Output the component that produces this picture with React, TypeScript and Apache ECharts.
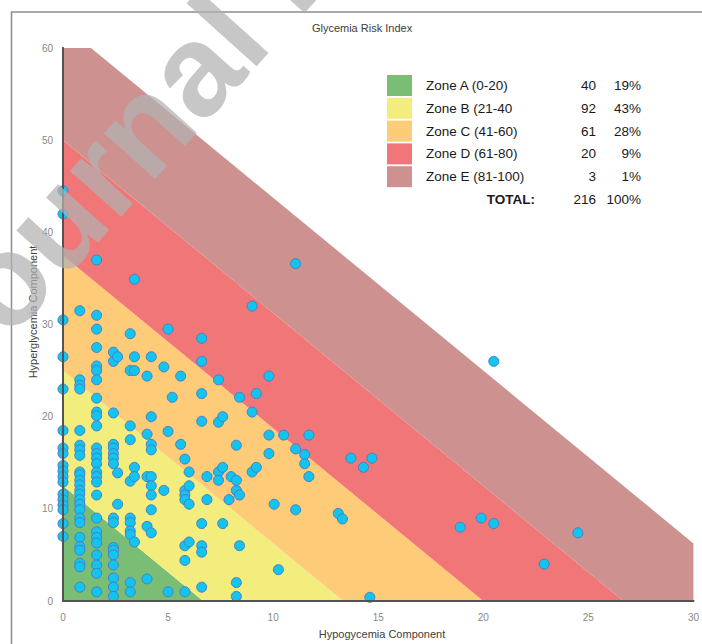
import React, { useEffect, useRef } from "react";
import * as echarts from "echarts";

// ---- Data ----
const zoneNames = ["Zone A (0-20)", "Zone B (21-40", "Zone C (41-60)", "Zone D (61-80)", "Zone E (81-100)"];
const zoneLow = [0, 20, 40, 60, 80];
const zoneHigh = [20, 40, 60, 80, 100];
const zoneColors = ["#7abd75", "#f3ed7e", "#fecb78", "#f17678", "#cd928f"];
const zoneCounts = ["40", "92", "61", "20", "3"];
const zonePcts = ["19%", "43%", "28%", "9%", "1%"];
const totalLabel = "TOTAL:";
const totalCount = "216";
const totalPct = "100%";
const hypoWeight = 3.0;
const hyperWeight = 1.6;

const xMin = 0, xMax = 30, xStep = 5;
const yMin = 0, yMax = 60, yStep = 10;

// [hypoglycemia component, hyperglycemia component]
const col0 = [44.5, 42.0, 30.5, 26.5, 23.0, 18.5, 16.6, 16.0, 14.7, 14.1, 13.5, 12.9, 11.6, 11.0, 10.4, 9.9, 8.4, 7.0];
const col08 = [31.5, 24.0, 23.4, 23.0, 18.5, 16.9, 16.4, 15.8, 14.0, 13.7, 13.1, 12.6, 12.0, 11.6, 11.0, 10.5, 9.9, 9.0, 8.5, 6.9, 5.9, 5.5, 4.1, 3.7, 1.5];
const col16 = [37.0, 31.0, 29.5, 27.5, 25.5, 25.0, 24.0, 22.0, 20.5, 20.1, 19.0, 16.6, 16.0, 15.5, 14.9, 14.0, 13.5, 12.9, 11.5, 9.0, 7.5, 6.9, 6.3, 5.0, 3.9, 3.0, 1.0];
const col24 = [27.0, 26.0, 20.4, 17.0, 16.6, 16.0, 15.5, 14.9, 9.0, 8.5, 5.8, 5.5, 5.0, 3.9, 2.5, 1.5, 0.5];
const col32 = [29.0, 25.0, 19.0, 17.5, 13.0, 9.0, 8.5, 7.6, 7.2, 2.0, 1.0];
const otherPoints: [number, number][] = [
  [2.6, 26.5], [2.6, 13.9], [2.6, 10.5],
  [3.4, 34.9], [3.4, 26.5], [3.4, 25.0], [3.4, 14.5], [3.4, 13.5], [3.4, 6.4],
  [4.0, 24.4], [4.0, 18.1], [4.0, 13.5], [4.0, 8.1], [4.0, 2.4],
  [4.2, 26.5], [4.2, 20.0], [4.2, 17.0], [4.2, 16.4], [4.2, 13.5], [4.2, 12.5], [4.2, 11.5], [4.2, 9.9], [4.2, 7.4],
  [4.8, 25.4], [4.8, 12.0], [5.0, 29.5], [5.0, 18.4], [5.0, 1.0], [5.2, 22.1],
  [5.6, 24.4], [5.6, 17.0],
  [5.8, 15.4], [5.8, 12.0], [5.8, 11.5], [5.8, 11.0], [5.8, 6.0], [5.8, 4.4], [5.8, 1.0],
  [6.0, 14.0], [6.0, 12.5], [6.0, 10.5], [6.0, 6.4],
  [6.6, 28.5], [6.6, 26.0], [6.6, 22.5], [6.6, 19.5], [6.6, 8.4], [6.6, 6.0], [6.6, 5.3], [6.6, 1.5],
  [6.85, 13.5], [6.85, 11.0],
  [7.4, 24.0], [7.4, 19.4], [7.4, 14.0], [7.4, 13.1], [7.6, 20.0], [7.6, 14.5], [7.6, 8.4], [7.9, 11.0],
  [8.0, 13.5], [8.25, 16.9], [8.25, 13.1], [8.25, 12.0], [8.25, 2.0], [8.25, 0.5],
  [8.4, 22.1], [8.4, 11.5], [8.4, 6.0],
  [9.0, 32.0], [9.0, 20.5], [9.0, 14.0], [9.2, 22.5], [9.2, 14.5],
  [9.8, 24.4], [9.8, 18.0], [9.8, 16.0],
  [10.05, 10.5], [10.25, 3.4], [10.5, 18.0],
  [11.07, 36.6], [11.07, 16.5], [11.07, 9.9], [11.5, 15.9], [11.5, 14.9], [11.7, 18.0], [11.7, 13.5],
  [13.1, 9.5], [13.3, 8.9], [13.7, 15.5], [14.3, 14.5], [14.7, 15.5], [14.6, 0.4],
  [18.9, 8.0], [19.9, 9.0], [20.5, 8.4], [20.5, 26.0], [22.9, 4.0], [24.5, 7.4],
];

const columnXs = [0, 0.8, 1.6, 2.4, 3.2];
const columnYs = [col0, col08, col16, col24, col32];

function buildPoints(): [number, number][] {
  const pts: [number, number][] = [];
  columnXs.forEach((x, i) => columnYs[i].forEach((y) => pts.push([x, y])));
  return pts.concat(otherPoints);
}

function clipPoly(poly: number[][], x0: number, x1: number, y0: number, y1: number) {
  const planes: [number, number, number][] = [
    [0, x0, 1], [0, x1, -1], [1, y0, 1], [1, y1, -1],
  ];
  let out = poly;
  for (const [k, b, s] of planes) {
    const input = out;
    out = [];
    if (!input.length) break;
    for (let i = 0; i < input.length; i++) {
      const cur = input[i];
      const prev = input[(i + input.length - 1) % input.length];
      const cin = s * (cur[k] - b) >= 0;
      const pin = s * (prev[k] - b) >= 0;
      if (cin) {
        if (!pin) {
          const t = (b - prev[k]) / (cur[k] - prev[k]);
          out.push([prev[0] + t * (cur[0] - prev[0]), prev[1] + t * (cur[1] - prev[1])]);
        }
        out.push(cur);
      } else if (pin) {
        const t = (b - prev[k]) / (cur[k] - prev[k]);
        out.push([prev[0] + t * (cur[0] - prev[0]), prev[1] + t * (cur[1] - prev[1])]);
      }
    }
  }
  return out;
}

export default function App() {
  const ref = useRef<HTMLDivElement>(null);
  useEffect(() => {
    document.body.style.margin = "0";
    if (!ref.current) return;
    const chart = echarts.init(ref.current, undefined, { renderer: "svg" });
    const font = '"Liberation Sans", Arial, sans-serif';

    const legendGraphics: any[] = [];
    const rowTop = 75;
    const rowH = 22.8;
    zoneNames.forEach((name, i) => {
      const cy = rowTop + i * rowH + 10.5;
      legendGraphics.push({
        type: "rect",
        shape: { x: 387, y: rowTop + i * rowH, width: 25, height: 21 },
        style: { fill: zoneColors[i] },
        z: 50,
      });
      legendGraphics.push({
        type: "text", x: 426, y: cy,
        style: { text: name, font: `13.5px ${font}`, fill: "#1a1a1a", align: "left", verticalAlign: "middle" },
        z: 50,
      });
      legendGraphics.push({
        type: "text", x: 596, y: cy,
        style: { text: zoneCounts[i], font: `13.5px ${font}`, fill: "#1a1a1a", align: "right", verticalAlign: "middle" },
        z: 50,
      });
      legendGraphics.push({
        type: "text", x: 641, y: cy,
        style: { text: zonePcts[i], font: `13.5px ${font}`, fill: "#1a1a1a", align: "right", verticalAlign: "middle" },
        z: 50,
      });
    });
    const ty = rowTop + 5 * rowH + 10.5;
    legendGraphics.push(
      { type: "text", x: 535, y: ty, style: { text: totalLabel, font: `bold 13.5px ${font}`, fill: "#1a1a1a", align: "right", verticalAlign: "middle" }, z: 50 },
      { type: "text", x: 596, y: ty, style: { text: totalCount, font: `13.5px ${font}`, fill: "#1a1a1a", align: "right", verticalAlign: "middle" }, z: 50 },
      { type: "text", x: 641, y: ty, style: { text: totalPct, font: `13.5px ${font}`, fill: "#1a1a1a", align: "right", verticalAlign: "middle" }, z: 50 },
    );

    const axisCommon = {
      min: 0, splitLine: { show: false }, axisTick: { show: false }, z: 10,
    };

    chart.setOption({
      animation: false,
      backgroundColor: "#ffffff",
      grid: { left: 63, top: 48, right: 4, bottom: 43, containLabel: false },
      xAxis: [
        {
          ...axisCommon, type: "value", min: xMin, max: xMax, interval: xStep, position: "bottom",
          axisLine: { show: true, lineStyle: { color: "#404040", width: 2 } },
          axisLabel: { color: "#888888", fontSize: 10, fontFamily: font, margin: 11 },
        },
        {
          ...axisCommon, type: "value", min: xMin, max: xMax, interval: xStep, position: "top",
          axisLine: { show: true, lineStyle: { color: "#5a5a5a", width: 1.5 } },
          axisLabel: { show: false },
        },
      ],
      yAxis: [
        {
          ...axisCommon, type: "value", min: yMin, max: yMax, interval: yStep, position: "left",
          axisLine: { show: true, lineStyle: { color: "#404040", width: 2 } },
          axisLabel: { color: "#888888", fontSize: 10, fontFamily: font, margin: 10 },
        },
        {
          ...axisCommon, type: "value", min: yMin, max: yMax, interval: yStep, position: "right",
          axisLine: { show: true, lineStyle: { color: "#5a5a5a", width: 1.5 } },
          axisLabel: { show: false },
        },
      ],
      series: [
        {
          type: "custom",
          silent: true,
          z: 1,
          data: zoneLow.map((lo, i) => [i, lo, zoneHigh[i]]),
          encode: { x: 0, y: 1 },
          renderItem: (params: any, api: any) => {
            const i = api.value(0);
            const lo = api.value(1);
            const hi = api.value(2);
            const poly = clipPoly(
              [[0, lo / hyperWeight], [lo / hypoWeight, 0], [hi / hypoWeight, 0], [0, hi / hyperWeight]],
              xMin, xMax, yMin, yMax,
            );
            return {
              type: "polygon",
              shape: { points: poly.map((p) => api.coord(p)) },
              style: { fill: zoneColors[i], stroke: null },
            };
          },
        },
        {
          type: "scatter",
          z: 5,
          symbol: "circle",
          symbolSize: 10,
          data: buildPoints(),
          itemStyle: { color: "#12c5ef", borderColor: "#4a7cc9", borderWidth: 1, opacity: 1 },
        },
      ],
      graphic: [
        {
          type: "rect",
          shape: { x: 11.5, y: 12, width: 900, height: 900 },
          style: { fill: "none", stroke: "#8c8c8c", lineWidth: 1.5 },
          z: 0,
          silent: true,
        },
        {
          type: "text", x: 362, y: 28,
          style: { text: "Glycemia Risk Index", font: `11px ${font}`, fill: "#404040", align: "center", verticalAlign: "middle" },
          z: 50,
        },
        {
          type: "text", x: 382, y: 634,
          style: { text: "Hypogycemia Component", font: `11px ${font}`, fill: "#404040", align: "center", verticalAlign: "middle" },
          z: 50,
        },
        {
          type: "text", x: 33, y: 312, rotation: Math.PI / 2,
          style: { text: "Hyperglycemia Component", font: `11px ${font}`, fill: "#404040", align: "center", verticalAlign: "middle" },
          z: 50,
        },
        ...legendGraphics,
        {
          type: "text", x: -73, y: 365, rotation: (48 * Math.PI) / 180,
          style: { text: "Journal Pre-proof", font: `bold 130px ${font}`, fill: "rgba(178,178,178,0.72)", align: "left", verticalAlign: "middle" },
          z: 200,
          silent: true,
        },
      ],
    });
    return () => chart.dispose();
  }, []);
  return <div ref={ref} style={{ position: "absolute", left: 0, top: 0, width: 702, height: 644 }} />;
}
